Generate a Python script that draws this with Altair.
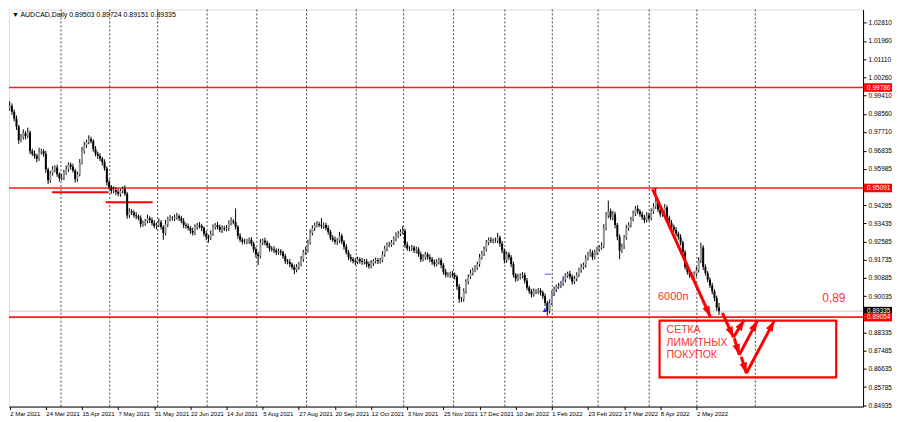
import math
import altair as alt
import pandas as pd

# ---------------- data ----------------
closes = [
    0.9892, 0.9865, 0.9833, 0.9796, 0.9733, 0.9747, 0.9765, 0.9751, 0.9769, 0.9681,
    0.9669, 0.9659, 0.9646, 0.9677, 0.9681, 0.9669, 0.9596, 0.9545, 0.9577, 0.9596,
    0.9605, 0.9573, 0.9555, 0.9559, 0.9582, 0.9596, 0.9618, 0.9609, 0.9591, 0.9550,
    0.9573, 0.9628, 0.9681, 0.9710, 0.9724, 0.9737, 0.9728, 0.9691, 0.9669, 0.9659,
    0.9646, 0.9628, 0.9600, 0.9536, 0.9514, 0.9495, 0.9500, 0.9491, 0.9482, 0.9495,
    0.9504, 0.9482, 0.9381, 0.9400, 0.9395, 0.9381, 0.9377, 0.9368, 0.9340, 0.9345,
    0.9354, 0.9368, 0.9359, 0.9345, 0.9331, 0.9336, 0.9349, 0.9327, 0.9299, 0.9340,
    0.9363, 0.9368, 0.9368, 0.9372, 0.9377, 0.9368, 0.9354, 0.9336, 0.9331, 0.9322,
    0.9308, 0.9299, 0.9327, 0.9336, 0.9331, 0.9322, 0.9295, 0.9281, 0.9277, 0.9295,
    0.9327, 0.9336, 0.9327, 0.9313, 0.9322, 0.9318, 0.9322, 0.9345, 0.9354, 0.9349,
    0.9327, 0.9286, 0.9267, 0.9258, 0.9258, 0.9263, 0.9267, 0.9249, 0.9222, 0.9199,
    0.9190, 0.9254, 0.9263, 0.9254, 0.9240, 0.9226, 0.9222, 0.9217, 0.9208, 0.9213,
    0.9208, 0.9190, 0.9167, 0.9163, 0.9153, 0.9140, 0.9126, 0.9140, 0.9153, 0.9176,
    0.9208, 0.9217, 0.9254, 0.9299, 0.9322, 0.9336, 0.9340, 0.9336, 0.9331, 0.9336,
    0.9322, 0.9304, 0.9277, 0.9267, 0.9258, 0.9263, 0.9286, 0.9258, 0.9235, 0.9208,
    0.9185, 0.9176, 0.9167, 0.9163, 0.9176, 0.9167, 0.9163, 0.9167, 0.9153, 0.9144,
    0.9158, 0.9167, 0.9172, 0.9167, 0.9172, 0.9199, 0.9226, 0.9244, 0.9244, 0.9254,
    0.9272, 0.9286, 0.9295, 0.9304, 0.9308, 0.9244, 0.9226, 0.9226, 0.9231, 0.9217,
    0.9222, 0.9199, 0.9176, 0.9185, 0.9199, 0.9185, 0.9176, 0.9163, 0.9153, 0.9163,
    0.9172, 0.9149, 0.9117, 0.9103, 0.9103, 0.9108, 0.9103, 0.9094, 0.9048, 0.8990,
    0.8990, 0.9026, 0.9071, 0.9094, 0.9112, 0.9126, 0.9135, 0.9153, 0.9185, 0.9204,
    0.9222, 0.9254, 0.9267, 0.9263, 0.9263, 0.9263, 0.9277, 0.9249, 0.9217, 0.9172,
    0.9199, 0.9185, 0.9153, 0.9103, 0.9085, 0.9094, 0.9099, 0.9103, 0.9076, 0.9044,
    0.9026, 0.9012, 0.9026, 0.9026, 0.9030, 0.9021, 0.9003, 0.8972, 0.8935, 0.8972,
    0.9017, 0.9035, 0.9048, 0.9053, 0.9062, 0.9081, 0.9099, 0.9108, 0.9094, 0.9071,
    0.9085, 0.9103, 0.9126, 0.9140, 0.9149, 0.9181, 0.9199, 0.9208, 0.9185, 0.9208,
    0.9222, 0.9231, 0.9240, 0.9322, 0.9381, 0.9400, 0.9372, 0.9386, 0.9336, 0.9281,
    0.9217, 0.9235, 0.9277, 0.9322, 0.9336, 0.9363, 0.9390, 0.9413, 0.9400, 0.9386,
    0.9372, 0.9359, 0.9381, 0.9368, 0.9400, 0.9422, 0.9445, 0.9409, 0.9386, 0.9400,
    0.9418, 0.9368, 0.9345, 0.9327, 0.9313, 0.9295, 0.9281, 0.9254, 0.9208, 0.9140,
    0.9117, 0.9103, 0.9094, 0.9108, 0.9126, 0.9172, 0.9231, 0.9140, 0.9112, 0.9081,
    0.9053, 0.9026, 0.8994, 0.8950, 0.89335,
]
first_open = 0.9880

# upper / lower shadows, in pips
wick_up = [
    23, 12, 10, 15, 8, 14, 18, 10, 22, 9, 12, 15, 10, 20, 11, 9, 14, 8, 12, 16,
    10, 13, 9, 15, 12, 18, 11, 10, 14, 8, 12, 16, 20, 15, 11, 18, 12, 9, 14, 10,
    12, 8, 15, 10, 13, 9, 16, 11, 14, 10, 12, 18, 9, 14, 11, 10, 15, 8, 13, 12,
    10, 16, 9, 12, 14, 11, 18, 10, 8, 20, 12, 15, 10, 13, 16, 9, 11, 14, 10, 12,
    9, 15, 12, 10, 14, 11, 8, 13, 10, 16, 12, 9, 15, 11, 13, 10, 14, 12, 18, 10,
    64, 9, 12, 10, 14, 8, 11, 13, 9, 10, 12, 16, 10, 14, 9, 12, 11, 15, 10, 13,
    11, 9, 12, 10, 14, 8, 11, 13, 10, 15, 12, 18, 14, 16, 12, 10, 14, 11, 32, 12,
    10, 13, 9, 12, 15, 11, 18, 10, 9, 12, 11, 14, 10, 13, 12, 9, 15, 11, 10, 12,
    14, 10, 12, 9, 11, 15, 13, 10, 14, 12, 11, 16, 13, 12, 23, 10, 14, 11, 12, 9,
    13, 10, 12, 15, 11, 9, 14, 10, 12, 13, 11, 10, 9, 14, 12, 10, 13, 11, 9, 12,
    10, 14, 12, 11, 15, 10, 13, 12, 16, 11, 14, 12, 10, 13, 11, 15, 22, 10, 12, 9,
    13, 11, 10, 12, 9, 14, 11, 13, 10, 12, 9, 11, 14, 10, 12, 11, 9, 13, 10, 16,
    12, 14, 10, 13, 11, 15, 12, 10, 14, 11, 13, 12, 10, 15, 11, 14, 12, 16, 10, 13,
    12, 11, 14, 18, 15, 50, 13, 16, 12, 10, 11, 14, 12, 15, 13, 11, 14, 12, 16, 10,
    13, 11, 15, 12, 14, 16, 64, 12, 14, 11, 16, 10, 12, 14, 11, 13, 10, 12, 9, 11,
    10, 12, 14, 11, 15, 13, 23, 10, 12, 9, 11, 13, 10, 12, 22,
]
wick_dn = [
    10, 14, 12, 16, 18, 10, 12, 15, 9, 14, 11, 13, 17, 10, 12, 14, 16, 18, 12, 10,
    14, 12, 16, 10, 13, 11, 12, 15, 10, 16, 12, 10, 9, 12, 14, 10, 11, 13, 12, 15,
    11, 14, 10, 16, 12, 13, 10, 15, 12, 14, 11, 10, 16, 12, 13, 11, 14, 10, 15, 12,
    13, 10, 14, 12, 11, 15, 10, 12, 32, 11, 13, 10, 12, 14, 11, 13, 10, 15, 12, 11,
    14, 12, 10, 13, 11, 15, 12, 16, 23, 11, 10, 13, 12, 11, 14, 10, 12, 13, 11, 10,
    12, 14, 11, 13, 10, 12, 15, 11, 14, 16, 41, 10, 12, 13, 11, 14, 10, 12, 13, 11,
    14, 12, 13, 11, 15, 12, 20, 11, 13, 10, 12, 11, 10, 9, 12, 14, 11, 10, 12, 13,
    11, 14, 12, 10, 13, 15, 11, 12, 14, 10, 13, 12, 11, 14, 10, 12, 13, 11, 15, 12,
    10, 13, 11, 14, 12, 10, 11, 13, 12, 10, 11, 12, 10, 11, 12, 14, 10, 13, 11, 12,
    14, 11, 13, 10, 12, 11, 14, 13, 12, 10, 11, 15, 13, 12, 11, 14, 12, 13, 16, 18,
    14, 12, 11, 13, 10, 12, 11, 10, 12, 11, 13, 10, 12, 11, 13, 10, 12, 14, 13, 15,
    12, 13, 14, 12, 15, 11, 13, 12, 14, 13, 12, 15, 11, 13, 12, 14, 13, 15, 23, 12,
    11, 13, 12, 10, 12, 11, 13, 10, 12, 14, 11, 12, 10, 13, 11, 12, 10, 11, 13, 10,
    12, 11, 10, 12, 11, 13, 12, 14, 15, 16, 41, 12, 11, 10, 12, 11, 10, 12, 13, 11,
    12, 14, 11, 13, 10, 12, 11, 13, 12, 11, 10, 14, 12, 13, 11, 12, 13, 14, 15, 12,
    13, 14, 12, 11, 13, 12, 14, 15, 12, 13, 12, 14, 13, 15, 18,
]
assert len(closes) == len(wick_up) == len(wick_dn) == 315

date_labels = ["2 Mar 2021", "24 Mar 2021", "15 Apr 2021", "7 May 2021", "31 May 2021",
               "22 Jun 2021", "14 Jul 2021", "5 Aug 2021", "27 Aug 2021", "20 Sep 2021",
               "12 Oct 2021", "3 Nov 2021", "25 Nov 2021", "17 Dec 2021", "10 Jan 2022",
               "1 Feb 2022", "23 Feb 2022", "17 Mar 2022", "8 Apr 2022", "2 May 2022"]
label_bars = [16 * k for k in range(len(date_labels))]
grid_bars = [22.7, 44.3, 65.5, 87.4, 109.4, 131.4, 153.4, 174.4, 196.5, 219.2,
             240.2, 260.5, 283.1, 304.2, 330.1]
ytick_vals = [1.02810, 1.01960, 1.01110, 1.00260, 0.99410, 0.98560, 0.97710, 0.96835,
              0.95985, 0.94285, 0.93435, 0.92585, 0.91735, 0.90885, 0.90035, 0.88335,
              0.87485, 0.86635, 0.85785, 0.84935]

level_prices = [0.99786, 0.95091, 0.89054]
current_price = 0.89335
header = "\u25bc AUDCAD,Daily  0.89503 0.89724 0.89151 0.89335"

seg_x1 = [18.7, 42.5]
seg_x2 = [43.8, 63.3]
seg_y = [0.94894, 0.94420]

arrow_x1 = [284.6, 315.5, 320.4, 320.8, 323.0, 323.9, 326.1]
arrow_y1 = [0.9504, 0.8925, 0.8811, 0.8807, 0.8729, 0.8720, 0.8643]
arrow_x2 = [310.2, 320.4, 325.2, 323.0, 331.0, 326.1, 338.5]
arrow_y2 = [0.8907, 0.8811, 0.8893, 0.8729, 0.8889, 0.8643, 0.8889]

box_x = [287.7, 365.9]
box_y = [0.8889, 0.8624]

note_small = ["6000\u043f"]
note_small_x = [287.0]
note_small_y = [0.8998]
note_level = ["0,89"]
note_level_x = [359.7]
note_level_y = [0.8994]
box_lines = ["СЕТКА", "ЛИМИТНЫХ", "ПОКУПОК"]
box_lines_x = [290.8, 290.8, 290.8]
box_lines_y = [0.8843, 0.8784, 0.8729]

blue_dash_x = [236.9, 239.7]
blue_dash_y = 0.9106
blue_diag_x = [236.9, 246.6]
blue_diag_y = [0.8944, 0.9112]

# ---------------- layout ----------------
W, H = 856, 398
XMIN = -0.31
XMAX = XMIN + W / 2.264
YMIN, YMAX = 0.84875, 1.03434
PXB = W / (XMAX - XMIN)
PXP = H / (YMAX - YMIN)
RED = "#ff0000"
FONT = "Liberation Sans"

xs = alt.Scale(domain=[XMIN, XMAX], nice=False, zero=False)
ys = alt.Scale(domain=[YMIN, YMAX], nice=False, zero=False)

opens = [first_open] + closes[:-1]
rows = []
for i, (o, c, u, d) in enumerate(zip(opens, closes, wick_up, wick_dn)):
    rows.append({"i": i, "open": o, "close": c,
                 "high": max(o, c) + u * 1e-4, "low": min(o, c) - d * 1e-4})
candles = pd.DataFrame(rows)

label_js = "[" + ",".join("'%s'" % s for s in date_labels) + "]"
x_axis = alt.Axis(values=label_bars, labelExpr=label_js + "[round(datum.value / 16)]",
                  labelAlign="left", labelFontSize=6, labelFont=FONT, labelColor="#000",
                  labelOverlap=False, labelFlush=False, labelPadding=1,
                  tickSize=3, tickColor="#000", domainColor="#000", grid=False, title=None)
y_axis = alt.Axis(orient="right", values=ytick_vals, format=".5f", labelFontSize=6.5,
                  labelFont=FONT, labelColor="#000", labelOverlap=False, labelPadding=2,
                  tickSize=3, tickColor="#000", domainColor="#000", grid=False, title=None)

def X(f):
    return alt.X(f, type="quantitative", scale=xs, axis=x_axis)

def Y(f):
    return alt.Y(f, type="quantitative", scale=ys, axis=y_axis)

grid = alt.Chart(pd.DataFrame({"g": grid_bars})).mark_rule(
    color="#444", strokeWidth=1, strokeDash=[2, 2]).encode(x=X("g"))

cur = alt.Chart(pd.DataFrame({"p": [current_price]})).mark_rule(
    color="#c8c8c8", strokeWidth=1).encode(y=Y("p"))

levels = alt.Chart(pd.DataFrame({"p": level_prices})).mark_rule(
    color=RED, strokeWidth=1.6, opacity=0.9).encode(y=Y("p"))

segs = alt.Chart(pd.DataFrame({"a": seg_x1, "b": seg_x2, "p": seg_y})).mark_rule(
    color=RED, strokeWidth=2).encode(x=X("a"), x2="b", y=Y("p"))

wicks = alt.Chart(candles).mark_rule(color="#000", strokeWidth=1).encode(
    x=X("i"), y=Y("low"), y2="high")

bodies = alt.Chart(candles).mark_rule(strokeWidth=2).encode(
    x=X("i"), y=Y("open"), y2="close",
    color=alt.condition("datum.close >= datum.open", alt.value("#999999"), alt.value("#000000")))

blue_dash = alt.Chart(pd.DataFrame({"a": [blue_dash_x[0]], "b": [blue_dash_x[1]],
                                    "p": [blue_dash_y]})).mark_rule(
    color="#6b6bff", strokeWidth=1.2).encode(x=X("a"), x2="b", y=Y("p"))
blue_diag = alt.Chart(pd.DataFrame({"a": [blue_diag_x[0]], "b": [blue_diag_x[1]],
                                    "p": [blue_diag_y[0]], "q": [blue_diag_y[1]]})).mark_rule(
    color="#4a4aff", strokeWidth=1, strokeDash=[1.5, 1.5]).encode(
    x=X("a"), x2="b", y=Y("p"), y2="q")
blue_mark = alt.Chart(pd.DataFrame({"a": [blue_diag_x[0]], "p": [blue_diag_y[0] - 0.0006]})).mark_point(
    shape="triangle-up", filled=True, color="#1a1aff", size=18, opacity=1).encode(x=X("a"), y=Y("p"))

# arrows
arr = pd.DataFrame({"x1": arrow_x1, "y1": arrow_y1, "x2": arrow_x2, "y2": arrow_y2})
heads = []
HEAD = 150
r = math.sqrt(HEAD) / 2
for _, a in arr.iterrows():
    dxp = (a.x2 - a.x1) * PXB
    dyp = -(a.y2 - a.y1) * PXP
    ln = math.hypot(dxp, dyp)
    ux, uy = dxp / ln, dyp / ln
    ang = math.degrees(math.atan2(ux, -uy)) % 360
    heads.append({"hx": a.x2 - r * ux / PXB, "hy": a.y2 + r * uy / PXP, "ang": ang})
heads = pd.DataFrame(heads)

arrow_lines = alt.Chart(arr).mark_rule(color=RED, strokeWidth=3).encode(
    x=X("x1"), y=Y("y1"), x2="x2", y2="y2")
arrow_heads = alt.Chart(heads).mark_point(
    shape="M0,-1L0.62,0.75L-0.62,0.75Z", filled=True, color=RED, opacity=1, size=HEAD,
    strokeWidth=0).encode(x=X("hx"), y=Y("hy"), angle=alt.Angle("ang:Q", scale=None))

box = alt.Chart(pd.DataFrame({"a": [box_x[0]], "b": [box_x[1]],
                              "p": [box_y[0]], "q": [box_y[1]]})).mark_rect(
    fillOpacity=0, stroke=RED, strokeWidth=2.2).encode(x=X("a"), x2="b", y=Y("p"), y2="q")

t1 = alt.Chart(pd.DataFrame({"t": note_small, "x": note_small_x, "y": note_small_y})).mark_text(
    align="left", baseline="middle", font=FONT, fontSize=11, color="#ff3030").encode(
    x=X("x"), y=Y("y"), text="t:N")
t2 = alt.Chart(pd.DataFrame({"t": note_level, "x": note_level_x, "y": note_level_y})).mark_text(
    align="left", baseline="middle", font=FONT, fontSize=12, color="#ff3030").encode(
    x=X("x"), y=Y("y"), text="t:N")
t3 = alt.Chart(pd.DataFrame({"t": box_lines, "x": box_lines_x, "y": box_lines_y})).mark_text(
    align="left", baseline="middle", font=FONT, fontSize=10.5, color="#ff3030").encode(
    x=X("x"), y=Y("y"), text="t:N")

# price tags on the right axis
tag_p = [level_prices[0], level_prices[1], current_price, level_prices[2]]
tag_c = [RED, RED, "#000000", RED]
d = 4.3 / PXP
tags = pd.DataFrame({"p": tag_p, "lo": [p - d for p in tag_p], "hi": [p + d for p in tag_p],
                     "c": tag_c, "t": ["%.5f" % p for p in tag_p]})
tag_rect = alt.Chart(tags).mark_rect().encode(
    x=alt.value(W + 1), x2=alt.value(W + 29), y=Y("lo"), y2="hi",
    color=alt.Color("c:N", scale=None))
tag_text = alt.Chart(tags).mark_text(
    align="left", baseline="middle", font=FONT, fontSize=6.5, color="#ffffff").encode(
    x=alt.value(W + 4), y=Y("p"), text="t:N")

head_text = alt.Chart(pd.DataFrame({"t": [header]})).mark_text(
    align="left", baseline="middle", font=FONT, fontSize=7, color="#000").encode(
    x=alt.value(3), y=alt.value(6), text="t:N")

chart = alt.layer(
    grid, cur, levels, segs, wicks, bodies, blue_dash, blue_diag, blue_mark,
    arrow_lines, arrow_heads, box, t1, t2, t3, tag_rect, tag_text, head_text
).properties(width=W, height=H, padding=0).configure_view(
    stroke="#222", strokeWidth=1).configure(background="#ffffff")

chart.save("out.html", embed_options={"renderer": "svg", "actions": False})
